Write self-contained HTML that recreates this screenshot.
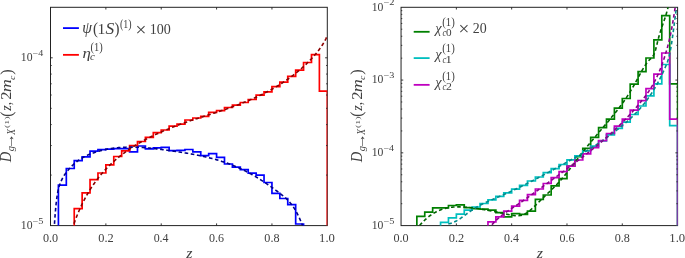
<!DOCTYPE html>
<html><head><meta charset="utf-8"><title>Fragmentation functions</title><style>html,body{margin:0;padding:0;background:#fff}svg{display:block}</style></head><body>
<svg width="685" height="258" viewBox="0 0 685 258">
<rect width="685" height="258" fill="#fff"/>
<defs><clipPath id="c1"><rect x="50.50" y="7.30" width="276.80" height="218.30"/></clipPath><clipPath id="c2"><rect x="401.05" y="7.30" width="276.55" height="218.30"/></clipPath></defs>
<rect x="50.50" y="7.30" width="276.80" height="218.30" fill="none" stroke="#222222" stroke-width="1"/>
<rect x="401.05" y="7.30" width="276.55" height="218.30" fill="none" stroke="#222222" stroke-width="1"/>
<path d="M58.41,265.60 L58.41,185.20 L66.32,185.20 L66.32,168.50 L74.23,168.50 L74.23,160.70 L82.13,160.70 L82.13,156.80 L90.04,156.80 L90.04,151.20 L97.95,151.20 L97.95,149.60 L105.86,149.60 L105.86,149.10 L113.77,149.10 L113.77,148.70 L121.68,148.70 L121.68,148.60 L129.59,148.60 L129.59,151.90 L137.49,151.90 L137.49,146.00 L145.40,146.00 L145.40,148.90 L153.31,148.90 L153.31,147.80 L161.22,147.80 L161.22,147.40 L169.13,147.40 L169.13,150.60 L177.04,150.60 L177.04,150.40 L184.95,150.40 L184.95,149.50 L192.85,149.50 L192.85,151.90 L200.76,151.90 L200.76,155.60 L208.67,155.60 L208.67,153.60 L216.58,153.60 L216.58,157.30 L224.49,157.30 L224.49,164.00 L232.40,164.00 L232.40,167.10 L240.31,167.10 L240.31,169.70 L248.21,169.70 L248.21,173.20 L256.12,173.20 L256.12,175.20 L264.03,175.20 L264.03,182.50 L271.94,182.50 L271.94,193.40 L279.85,193.40 L279.85,198.50 L287.76,198.50 L287.76,204.60 L295.67,204.60 L295.67,224.00 L303.57,224.00 L303.57,265.60 L327.30,265.60 L327.30,265.60" fill="none" stroke="#0000ff" stroke-width="1.7" stroke-linejoin="miter" clip-path="url(#c1)"/>
<path d="M74.23,265.60 L74.23,208.70 L82.13,208.70 L82.13,192.80 L90.04,192.80 L90.04,179.70 L97.95,179.70 L97.95,173.00 L105.86,173.00 L105.86,164.80 L113.77,164.80 L113.77,156.50 L121.68,156.50 L121.68,150.80 L129.59,150.80 L129.59,145.60 L137.49,145.60 L137.49,141.50 L145.40,141.50 L145.40,137.30 L153.31,137.30 L153.31,132.70 L161.22,132.70 L161.22,130.00 L169.13,130.00 L169.13,126.20 L177.04,126.20 L177.04,124.10 L184.95,124.10 L184.95,120.00 L192.85,120.00 L192.85,118.00 L200.76,118.00 L200.76,116.30 L208.67,116.30 L208.67,112.30 L216.58,112.30 L216.58,110.60 L224.49,110.60 L224.49,107.50 L232.40,107.50 L232.40,105.20 L240.31,105.20 L240.31,102.50 L248.21,102.50 L248.21,99.50 L256.12,99.50 L256.12,95.20 L264.03,95.20 L264.03,91.80 L271.94,91.80 L271.94,86.70 L279.85,86.70 L279.85,82.20 L287.76,82.20 L287.76,76.40 L295.67,76.40 L295.67,70.20 L303.57,70.20 L303.57,62.50 L311.48,62.50 L311.48,54.70 L319.39,54.70 L319.39,91.20 L327.30,91.20 L327.30,265.60" fill="none" stroke="#ff0000" stroke-width="1.7" stroke-linejoin="miter" clip-path="url(#c1)"/>
<path d="M54.10,230.04 L54.72,220.17 L55.35,211.93 L55.97,205.13 L56.60,199.60 L57.22,195.17 L57.84,191.65 L58.47,188.85 L59.09,186.61 L59.71,184.75 L60.34,183.09 L60.96,181.56 L61.59,180.15 L62.21,178.86 L62.83,177.67 L63.46,176.56 L64.08,175.54 L64.70,174.59 L65.33,173.69 L65.95,172.84 L66.58,172.03 L67.20,171.24 L67.82,170.47 L68.45,169.73 L69.07,169.01 L69.70,168.30 L70.32,167.62 L70.94,166.96 L71.57,166.32 L72.19,165.69 L72.81,165.09 L73.44,164.50 L74.06,163.93 L74.69,163.38 L75.31,162.84 L75.93,162.32 L76.56,161.82 L77.18,161.33 L77.80,160.86 L78.43,160.40 L79.05,159.96 L79.68,159.53 L80.30,159.12 L80.92,158.71 L81.55,158.33 L82.17,157.95 L82.80,157.59 L83.42,157.23 L84.04,156.89 L84.67,156.56 L85.29,156.24 L85.91,155.94 L86.54,155.64 L87.16,155.35 L87.79,155.07 L88.41,154.79 L89.03,154.53 L89.66,154.27 L90.28,154.03 L90.90,153.78 L91.53,153.55 L92.15,153.32 L92.78,153.10 L93.40,152.88 L94.02,152.67 L94.65,152.46 L95.27,152.25 L95.90,152.06 L96.52,151.86 L97.14,151.67 L97.77,151.49 L98.39,151.31 L99.01,151.13 L99.64,150.96 L100.26,150.79 L100.89,150.63 L101.51,150.47 L102.13,150.31 L102.76,150.16 L103.38,150.01 L104.00,149.87 L104.63,149.73 L105.25,149.60 L105.88,149.47 L106.50,149.34 L107.12,149.22 L107.75,149.10 L108.37,148.98 L109.00,148.87 L109.62,148.76 L110.24,148.66 L110.87,148.56 L111.49,148.46 L112.11,148.37 L112.74,148.28 L113.36,148.20 L113.99,148.11 L114.61,148.04 L115.23,147.96 L115.86,147.89 L116.48,147.82 L117.10,147.76 L117.73,147.69 L118.35,147.64 L118.98,147.58 L119.60,147.53 L120.22,147.48 L120.85,147.43 L121.47,147.39 L122.10,147.35 L122.72,147.32 L123.34,147.28 L123.97,147.25 L124.59,147.22 L125.21,147.20 L125.84,147.18 L126.46,147.16 L127.09,147.14 L127.71,147.13 L128.33,147.12 L128.96,147.11 L129.58,147.10 L130.20,147.10 L130.83,147.10 L131.45,147.10 L132.08,147.11 L132.70,147.11 L133.32,147.12 L133.95,147.13 L134.57,147.15 L135.20,147.16 L135.82,147.18 L136.44,147.20 L137.07,147.23 L137.69,147.25 L138.31,147.28 L138.94,147.31 L139.56,147.34 L140.19,147.37 L140.81,147.41 L141.43,147.45 L142.06,147.49 L142.68,147.53 L143.30,147.57 L143.93,147.62 L144.55,147.66 L145.18,147.71 L145.80,147.76 L146.42,147.81 L147.05,147.87 L147.67,147.92 L148.30,147.98 L148.92,148.04 L149.54,148.10 L150.17,148.16 L150.79,148.22 L151.41,148.28 L152.04,148.35 L152.66,148.42 L153.29,148.48 L153.91,148.55 L154.53,148.62 L155.16,148.69 L155.78,148.77 L156.40,148.84 L157.03,148.91 L157.65,148.99 L158.28,149.07 L158.90,149.14 L159.52,149.22 L160.15,149.30 L160.77,149.38 L161.40,149.46 L162.02,149.54 L162.64,149.63 L163.27,149.71 L163.89,149.79 L164.51,149.88 L165.14,149.96 L165.76,150.05 L166.39,150.13 L167.01,150.22 L167.63,150.31 L168.26,150.40 L168.88,150.48 L169.50,150.57 L170.13,150.66 L170.75,150.75 L171.38,150.84 L172.00,150.93 L172.62,151.02 L173.25,151.11 L173.87,151.20 L174.50,151.29 L175.12,151.38 L175.74,151.47 L176.37,151.56 L176.99,151.65 L177.61,151.75 L178.24,151.84 L178.86,151.94 L179.49,152.03 L180.11,152.13 L180.73,152.22 L181.36,152.32 L181.98,152.42 L182.60,152.52 L183.23,152.61 L183.85,152.71 L184.48,152.82 L185.10,152.92 L185.72,153.02 L186.35,153.12 L186.97,153.23 L187.60,153.33 L188.22,153.44 L188.84,153.55 L189.47,153.66 L190.09,153.77 L190.71,153.88 L191.34,153.99 L191.96,154.10 L192.59,154.22 L193.21,154.33 L193.83,154.45 L194.46,154.57 L195.08,154.69 L195.70,154.81 L196.33,154.93 L196.95,155.05 L197.58,155.18 L198.20,155.30 L198.82,155.43 L199.45,155.56 L200.07,155.69 L200.70,155.82 L201.32,155.96 L201.94,156.09 L202.57,156.23 L203.19,156.37 L203.81,156.51 L204.44,156.65 L205.06,156.80 L205.69,156.94 L206.31,157.09 L206.93,157.24 L207.56,157.39 L208.18,157.54 L208.80,157.70 L209.43,157.85 L210.05,158.01 L210.68,158.17 L211.30,158.33 L211.92,158.50 L212.55,158.67 L213.17,158.83 L213.80,159.01 L214.42,159.18 L215.04,159.35 L215.67,159.53 L216.29,159.71 L216.91,159.89 L217.54,160.08 L218.16,160.26 L218.79,160.45 L219.41,160.64 L220.03,160.84 L220.66,161.03 L221.28,161.23 L221.90,161.43 L222.53,161.64 L223.15,161.84 L223.78,162.05 L224.40,162.26 L225.02,162.47 L225.65,162.69 L226.27,162.91 L226.90,163.13 L227.52,163.36 L228.14,163.58 L228.77,163.81 L229.39,164.04 L230.01,164.28 L230.64,164.52 L231.26,164.76 L231.89,165.00 L232.51,165.25 L233.13,165.50 L233.76,165.75 L234.38,166.01 L235.00,166.27 L235.63,166.53 L236.25,166.79 L236.88,167.06 L237.50,167.33 L238.12,167.61 L238.75,167.88 L239.37,168.16 L240.00,168.45 L240.62,168.74 L241.24,169.03 L241.87,169.32 L242.49,169.62 L243.11,169.92 L243.74,170.22 L244.36,170.53 L244.99,170.84 L245.61,171.16 L246.23,171.47 L246.86,171.79 L247.48,172.12 L248.10,172.45 L248.73,172.78 L249.35,173.12 L249.98,173.46 L250.60,173.80 L251.22,174.15 L251.85,174.50 L252.47,174.85 L253.10,175.21 L253.72,175.57 L254.34,175.93 L254.97,176.30 L255.59,176.67 L256.21,177.04 L256.84,177.42 L257.46,177.80 L258.09,178.18 L258.71,178.57 L259.33,178.96 L259.96,179.35 L260.58,179.75 L261.20,180.14 L261.83,180.55 L262.45,180.95 L263.08,181.36 L263.70,181.77 L264.32,182.18 L264.95,182.60 L265.57,183.02 L266.20,183.44 L266.82,183.86 L267.44,184.29 L268.07,184.72 L268.69,185.15 L269.31,185.59 L269.94,186.02 L270.56,186.46 L271.19,186.91 L271.81,187.35 L272.43,187.80 L273.06,188.25 L273.68,188.70 L274.30,189.15 L274.93,189.61 L275.55,190.07 L276.18,190.53 L276.80,190.99 L277.42,191.46 L278.05,191.93 L278.67,192.40 L279.30,192.87 L279.92,193.34 L280.54,193.82 L281.17,194.30 L281.79,194.78 L282.41,195.28 L283.04,195.78 L283.66,196.30 L284.29,196.82 L284.91,197.37 L285.53,197.92 L286.16,198.50 L286.78,199.09 L287.40,199.71 L288.03,200.35 L288.65,201.01 L289.28,201.70 L289.90,202.42 L290.52,203.17 L291.15,203.94 L291.77,204.76 L292.40,205.60 L293.02,206.48 L293.64,207.40 L294.27,208.36 L294.89,209.36 L295.51,210.41 L296.14,211.49 L296.76,212.63 L297.39,213.81 L298.01,215.04 L298.63,216.33 L299.26,217.67 L299.88,219.06 L300.50,220.51 L301.13,222.01 L301.75,223.58 L302.38,225.21 L303.00,226.90" fill="none" stroke="#00008b" stroke-width="1.6" stroke-dasharray="3.6,2.6" clip-path="url(#c1)"/>
<path d="M64.34,259.55 L65.00,256.34 L65.66,253.27 L66.32,250.35 L66.98,247.55 L67.64,244.87 L68.29,242.30 L68.95,239.82 L69.61,237.44 L70.27,235.15 L70.93,232.94 L71.59,230.80 L72.25,228.74 L72.91,226.74 L73.57,224.80 L74.23,222.93 L74.88,221.11 L75.54,219.34 L76.20,217.63 L76.86,215.96 L77.52,214.34 L78.18,212.76 L78.84,211.21 L79.50,209.70 L80.16,208.23 L80.82,206.79 L81.48,205.38 L82.13,204.01 L82.79,202.68 L83.45,201.37 L84.11,200.09 L84.77,198.84 L85.43,197.61 L86.09,196.42 L86.75,195.24 L87.41,194.09 L88.07,192.97 L88.72,191.87 L89.38,190.78 L90.04,189.72 L90.70,188.68 L91.36,187.66 L92.02,186.66 L92.68,185.68 L93.34,184.72 L94.00,183.77 L94.66,182.84 L95.31,181.92 L95.97,181.02 L96.63,180.14 L97.29,179.27 L97.95,178.42 L98.61,177.58 L99.27,176.75 L99.93,175.94 L100.59,175.14 L101.25,174.35 L101.91,173.57 L102.56,172.81 L103.22,172.06 L103.88,171.32 L104.54,170.59 L105.20,169.87 L105.86,169.16 L106.52,168.46 L107.18,167.78 L107.84,167.10 L108.50,166.43 L109.15,165.77 L109.81,165.12 L110.47,164.48 L111.13,163.85 L111.79,163.23 L112.45,162.61 L113.11,162.00 L113.77,161.41 L114.43,160.81 L115.09,160.23 L115.75,159.66 L116.40,159.09 L117.06,158.53 L117.72,157.97 L118.38,157.42 L119.04,156.88 L119.70,156.35 L120.36,155.82 L121.02,155.30 L121.68,154.79 L122.34,154.28 L122.99,153.78 L123.65,153.28 L124.31,152.79 L124.97,152.30 L125.63,151.82 L126.29,151.35 L126.95,150.88 L127.61,150.42 L128.27,149.96 L128.93,149.51 L129.59,149.06 L130.24,148.61 L130.90,148.17 L131.56,147.74 L132.22,147.31 L132.88,146.89 L133.54,146.47 L134.20,146.05 L134.86,145.64 L135.52,145.23 L136.18,144.83 L136.83,144.43 L137.49,144.03 L138.15,143.64 L138.81,143.25 L139.47,142.87 L140.13,142.49 L140.79,142.11 L141.45,141.74 L142.11,141.37 L142.77,141.01 L143.42,140.64 L144.08,140.29 L144.74,139.93 L145.40,139.58 L146.06,139.23 L146.72,138.88 L147.38,138.54 L148.04,138.20 L148.70,137.86 L149.36,137.53 L150.02,137.20 L150.67,136.87 L151.33,136.54 L151.99,136.22 L152.65,135.90 L153.31,135.58 L153.97,135.27 L154.63,134.96 L155.29,134.65 L155.95,134.34 L156.61,134.03 L157.26,133.73 L157.92,133.43 L158.58,133.13 L159.24,132.84 L159.90,132.54 L160.56,132.25 L161.22,131.96 L161.88,131.68 L162.54,131.39 L163.20,131.11 L163.86,130.83 L164.51,130.55 L165.17,130.27 L165.83,129.99 L166.49,129.72 L167.15,129.45 L167.81,129.18 L168.47,128.91 L169.13,128.64 L169.79,128.37 L170.45,128.11 L171.10,127.85 L171.76,127.59 L172.42,127.33 L173.08,127.07 L173.74,126.81 L174.40,126.56 L175.06,126.30 L175.72,126.05 L176.38,125.80 L177.04,125.55 L177.69,125.30 L178.35,125.05 L179.01,124.81 L179.67,124.56 L180.33,124.32 L180.99,124.07 L181.65,123.83 L182.31,123.59 L182.97,123.35 L183.63,123.11 L184.29,122.87 L184.94,122.63 L185.60,122.40 L186.26,122.16 L186.92,121.93 L187.58,121.69 L188.24,121.46 L188.90,121.22 L189.56,121.01 L190.22,120.79 L190.88,120.57 L191.53,120.36 L192.19,120.14 L192.85,119.92 L193.51,119.71 L194.17,119.50 L194.83,119.28 L195.49,119.07 L196.15,118.85 L196.81,118.64 L197.47,118.43 L198.13,118.22 L198.78,118.01 L199.44,117.79 L200.10,117.58 L200.76,117.37 L201.42,117.16 L202.08,116.95 L202.74,116.74 L203.40,116.53 L204.06,116.31 L204.72,116.10 L205.37,115.89 L206.03,115.68 L206.69,115.47 L207.35,115.26 L208.01,115.05 L208.67,114.84 L209.33,114.62 L209.99,114.41 L210.65,114.20 L211.31,113.99 L211.97,113.77 L212.62,113.56 L213.28,113.35 L213.94,113.13 L214.60,112.92 L215.26,112.70 L215.92,112.49 L216.58,112.27 L217.24,112.05 L217.90,111.84 L218.56,111.62 L219.21,111.40 L219.87,111.18 L220.53,110.96 L221.19,110.74 L221.85,110.52 L222.51,110.30 L223.17,110.08 L223.83,109.85 L224.49,109.63 L225.15,109.40 L225.80,109.18 L226.46,108.95 L227.12,108.72 L227.78,108.49 L228.44,108.26 L229.10,108.03 L229.76,107.80 L230.42,107.56 L231.08,107.33 L231.74,107.09 L232.40,106.86 L233.05,106.62 L233.71,106.38 L234.37,106.14 L235.03,105.89 L235.69,105.65 L236.35,105.41 L237.01,105.16 L237.67,104.91 L238.33,104.66 L238.99,104.41 L239.64,104.16 L240.30,103.90 L240.96,103.65 L241.62,103.39 L242.28,103.13 L242.94,102.87 L243.60,102.61 L244.26,102.34 L244.92,102.08 L245.58,101.81 L246.24,101.54 L246.89,101.27 L247.55,100.99 L248.21,100.72 L248.87,100.44 L249.53,100.16 L250.19,99.88 L250.85,99.59 L251.51,99.31 L252.17,99.02 L252.83,98.73 L253.48,98.44 L254.14,98.14 L254.80,97.85 L255.46,97.55 L256.12,97.24 L256.78,96.94 L257.44,96.63 L258.10,96.32 L258.76,96.01 L259.42,95.70 L260.08,95.38 L260.73,95.06 L261.39,94.74 L262.05,94.42 L262.71,94.09 L263.37,93.76 L264.03,93.42 L264.69,93.09 L265.35,92.75 L266.01,92.41 L266.67,92.06 L267.32,91.72 L267.98,91.37 L268.64,91.01 L269.30,90.66 L269.96,90.30 L270.62,89.93 L271.28,89.57 L271.94,89.20 L272.60,88.82 L273.26,88.45 L273.91,88.07 L274.57,87.69 L275.23,87.30 L275.89,86.91 L276.55,86.52 L277.21,86.12 L277.87,85.72 L278.53,85.31 L279.19,84.90 L279.85,84.49 L280.51,84.08 L281.16,83.66 L281.82,83.23 L282.48,82.80 L283.14,82.37 L283.80,81.93 L284.46,81.49 L285.12,81.05 L285.78,80.60 L286.44,80.15 L287.10,79.69 L287.75,79.23 L288.41,78.76 L289.07,78.29 L289.73,77.81 L290.39,77.33 L291.05,76.84 L291.71,76.35 L292.37,75.85 L293.03,75.35 L293.69,74.85 L294.35,74.33 L295.00,73.82 L295.66,73.29 L296.32,72.76 L296.98,72.23 L297.64,71.69 L298.30,71.14 L298.96,70.59 L299.62,70.03 L300.28,69.47 L300.94,68.90 L301.59,68.32 L302.25,67.73 L302.91,67.14 L303.57,66.54 L304.23,65.94 L304.89,65.32 L305.55,64.70 L306.21,64.07 L306.87,63.44 L307.53,62.79 L308.19,62.14 L308.84,61.47 L309.50,60.80 L310.16,60.12 L310.82,59.43 L311.48,58.72 L312.14,58.01 L312.80,57.28 L313.46,56.55 L314.12,55.80 L314.78,55.04 L315.43,54.26 L316.09,53.47 L316.75,52.67 L317.41,51.84 L318.07,51.00 L318.73,50.14 L319.39,49.27 L320.05,48.36 L320.71,47.44 L321.37,46.49 L322.02,45.50 L322.68,44.49 L323.34,43.43 L324.00,42.32 L324.66,41.16 L325.32,39.93 L325.98,38.59 L326.64,37.09 L327.30,35.15" fill="none" stroke="#8b0000" stroke-width="1.6" stroke-dasharray="3.6,2.6" clip-path="url(#c1)"/>
<path d="M416.85,265.60 L416.85,216.40 L424.75,216.40 L424.75,212.10 L432.66,212.10 L432.66,207.80 L448.46,207.80 L448.46,205.50 L456.36,205.50 L456.36,204.90 L464.26,204.90 L464.26,207.60 L472.16,207.60 L472.16,208.60 L480.06,208.60 L480.06,209.20 L487.97,209.20 L487.97,210.20 L495.87,210.20 L495.87,212.70 L503.77,212.70 L503.77,216.80 L511.67,216.80 L511.67,213.70 L519.57,213.70 L519.57,214.30 L527.47,214.30 L527.47,211.10 L535.37,211.10 L535.37,199.40 L543.28,199.40 L543.28,195.00 L551.18,195.00 L551.18,185.80 L559.08,185.80 L559.08,178.70 L566.98,178.70 L566.98,166.00 L574.88,166.00 L574.88,156.70 L582.78,156.70 L582.78,148.30 L590.68,148.30 L590.68,137.30 L598.59,137.30 L598.59,127.60 L606.49,127.60 L606.49,119.20 L614.39,119.20 L614.39,108.10 L622.29,108.10 L622.29,98.50 L630.19,98.50 L630.19,84.20 L638.09,84.20 L638.09,71.70 L645.99,71.70 L645.99,58.00 L653.90,58.00 L653.90,39.90 L661.80,39.90 L661.80,15.70 L669.70,15.70 L669.70,83.80 L677.60,83.80 L677.60,265.60" fill="none" stroke="#008000" stroke-width="1.7" stroke-linejoin="miter" clip-path="url(#c2)"/>
<path d="M440.56,265.60 L440.56,222.30 L448.46,222.30 L448.46,217.80 L456.36,217.80 L456.36,214.10 L464.26,214.10 L464.26,210.20 L472.16,210.20 L472.16,207.00 L480.06,207.00 L480.06,203.50 L487.97,203.50 L487.97,199.80 L495.87,199.80 L495.87,196.40 L503.77,196.40 L503.77,192.90 L511.67,192.90 L511.67,189.20 L519.57,189.20 L519.57,185.30 L527.47,185.30 L527.47,181.00 L535.37,181.00 L535.37,177.00 L543.28,177.00 L543.28,172.60 L551.18,172.60 L551.18,168.60 L559.08,168.60 L559.08,164.50 L566.98,164.50 L566.98,159.80 L574.88,159.80 L574.88,155.80 L582.78,155.80 L582.78,150.80 L590.68,150.80 L590.68,146.10 L598.59,146.10 L598.59,141.00 L606.49,141.00 L606.49,134.80 L614.39,134.80 L614.39,128.40 L622.29,128.40 L622.29,122.20 L630.19,122.20 L630.19,114.50 L638.09,114.50 L638.09,106.00 L645.99,106.00 L645.99,95.90 L653.90,95.90 L653.90,83.80 L661.80,83.80 L661.80,64.50 L669.70,64.50 L669.70,125.60 L677.60,125.60 L677.60,265.60" fill="none" stroke="#00bfbf" stroke-width="1.7" stroke-linejoin="miter" clip-path="url(#c2)"/>
<path d="M487.97,265.60 L487.97,221.90 L495.87,221.90 L495.87,216.80 L503.77,216.80 L503.77,211.10 L511.67,211.10 L511.67,206.20 L519.57,206.20 L519.57,200.40 L527.47,200.40 L527.47,194.60 L535.37,194.60 L535.37,189.00 L543.28,189.00 L543.28,183.50 L551.18,183.50 L551.18,177.60 L559.08,177.60 L559.08,171.60 L566.98,171.60 L566.98,166.20 L574.88,166.20 L574.88,160.00 L582.78,160.00 L582.78,153.80 L590.68,153.80 L590.68,147.60 L598.59,147.60 L598.59,140.60 L606.49,140.60 L606.49,133.50 L614.39,133.50 L614.39,126.10 L622.29,126.10 L622.29,119.20 L630.19,119.20 L630.19,110.10 L638.09,110.10 L638.09,100.60 L645.99,100.60 L645.99,88.70 L653.90,88.70 L653.90,74.20 L661.80,74.20 L661.80,53.00 L669.70,53.00 L669.70,119.20 L677.60,119.20 L677.60,265.60" fill="none" stroke="#bf00bf" stroke-width="1.7" stroke-linejoin="miter" clip-path="url(#c2)"/>
<path d="M419.60,225.52 L420.23,224.79 L420.85,224.09 L421.48,223.40 L422.10,222.73 L422.73,222.07 L423.35,221.44 L423.98,220.82 L424.61,220.22 L425.23,219.63 L425.86,219.06 L426.48,218.51 L427.11,217.97 L427.74,217.45 L428.36,216.94 L428.99,216.45 L429.61,215.97 L430.24,215.51 L430.86,215.06 L431.49,214.63 L432.12,214.21 L432.74,213.81 L433.37,213.42 L433.99,213.05 L434.62,212.68 L435.25,212.33 L435.87,212.00 L436.50,211.67 L437.12,211.36 L437.75,211.07 L438.37,210.78 L439.00,210.51 L439.63,210.24 L440.25,209.99 L440.88,209.75 L441.50,209.53 L442.13,209.31 L442.76,209.10 L443.38,208.91 L444.01,208.72 L444.63,208.55 L445.26,208.39 L445.88,208.23 L446.51,208.09 L447.14,207.95 L447.76,207.82 L448.39,207.71 L449.01,207.60 L449.64,207.50 L450.26,207.41 L450.89,207.32 L451.52,207.25 L452.14,207.18 L452.77,207.12 L453.39,207.07 L454.02,207.02 L454.65,206.98 L455.27,206.95 L455.90,206.93 L456.52,206.91 L457.15,206.89 L457.77,206.89 L458.40,206.89 L459.03,206.89 L459.65,206.90 L460.28,206.92 L460.90,206.94 L461.53,206.96 L462.16,206.99 L462.78,207.02 L463.41,207.06 L464.03,207.10 L464.66,207.15 L465.28,207.20 L465.91,207.25 L466.54,207.31 L467.16,207.36 L467.79,207.43 L468.41,207.49 L469.04,207.56 L469.67,207.62 L470.29,207.69 L470.92,207.77 L471.54,207.84 L472.17,207.91 L472.79,207.99 L473.42,208.07 L474.05,208.15 L474.67,208.23 L475.30,208.32 L475.92,208.41 L476.55,208.49 L477.17,208.58 L477.80,208.67 L478.43,208.77 L479.05,208.86 L479.68,208.96 L480.30,209.05 L480.93,209.15 L481.56,209.25 L482.18,209.35 L482.81,209.45 L483.43,209.56 L484.06,209.66 L484.68,209.77 L485.31,209.88 L485.94,209.99 L486.56,210.10 L487.19,210.21 L487.81,210.32 L488.44,210.44 L489.07,210.55 L489.69,210.67 L490.32,210.79 L490.94,210.91 L491.57,211.03 L492.19,211.15 L492.82,211.27 L493.45,211.39 L494.07,211.52 L494.70,211.64 L495.32,211.76 L495.95,211.89 L496.58,212.02 L497.20,212.15 L497.83,212.27 L498.45,212.40 L499.08,212.53 L499.70,212.66 L500.33,212.80 L500.96,212.93 L501.58,213.06 L502.21,213.19 L502.83,213.33 L503.46,213.46 L504.08,213.60 L504.71,213.73 L505.34,213.87 L505.96,214.00 L506.59,214.14 L507.21,214.28 L507.84,214.41 L508.47,214.55 L509.09,214.69 L509.72,214.82 L510.34,214.95 L510.97,215.08 L511.59,215.20 L512.22,215.31 L512.85,215.41 L513.47,215.50 L514.10,215.58 L514.72,215.65 L515.35,215.70 L515.98,215.74 L516.60,215.76 L517.23,215.77 L517.85,215.75 L518.48,215.72 L519.10,215.66 L519.73,215.58 L520.36,215.48 L520.98,215.35 L521.61,215.19 L522.23,215.01 L522.86,214.79 L523.49,214.55 L524.11,214.27 L524.74,213.97 L525.36,213.63 L525.99,213.27 L526.61,212.88 L527.24,212.46 L527.87,212.03 L528.49,211.57 L529.12,211.08 L529.74,210.58 L530.37,210.07 L530.99,209.53 L531.62,208.98 L532.25,208.42 L532.87,207.84 L533.50,207.26 L534.12,206.66 L534.75,206.06 L535.38,205.45 L536.00,204.83 L536.63,204.21 L537.25,203.59 L537.88,202.97 L538.50,202.35 L539.13,201.73 L539.76,201.11 L540.38,200.50 L541.01,199.89 L541.63,199.28 L542.26,198.68 L542.89,198.08 L543.51,197.48 L544.14,196.88 L544.76,196.28 L545.39,195.68 L546.01,195.09 L546.64,194.49 L547.27,193.89 L547.89,193.29 L548.52,192.69 L549.14,192.09 L549.77,191.48 L550.40,190.88 L551.02,190.27 L551.65,189.65 L552.27,189.04 L552.90,188.42 L553.52,187.79 L554.15,187.16 L554.78,186.53 L555.40,185.89 L556.03,185.24 L556.65,184.59 L557.28,183.93 L557.91,183.27 L558.53,182.60 L559.16,181.91 L559.78,181.23 L560.41,180.53 L561.03,179.82 L561.66,179.11 L562.29,178.38 L562.91,177.65 L563.54,176.90 L564.16,176.15 L564.79,175.38 L565.41,174.61 L566.04,173.83 L566.67,173.04 L567.29,172.24 L567.92,171.44 L568.54,170.63 L569.17,169.82 L569.80,169.00 L570.42,168.17 L571.05,167.35 L571.67,166.52 L572.30,165.69 L572.92,164.86 L573.55,164.02 L574.18,163.19 L574.80,162.35 L575.43,161.52 L576.05,160.69 L576.68,159.86 L577.31,159.03 L577.93,158.20 L578.56,157.38 L579.18,156.56 L579.81,155.75 L580.43,154.94 L581.06,154.14 L581.69,153.34 L582.31,152.54 L582.94,151.75 L583.56,150.96 L584.19,150.17 L584.82,149.39 L585.44,148.61 L586.07,147.84 L586.69,147.06 L587.32,146.29 L587.94,145.53 L588.57,144.76 L589.20,144.00 L589.82,143.24 L590.45,142.48 L591.07,141.73 L591.70,140.97 L592.32,140.22 L592.95,139.47 L593.58,138.72 L594.20,137.98 L594.83,137.23 L595.45,136.48 L596.08,135.74 L596.71,135.00 L597.33,134.26 L597.96,133.52 L598.58,132.77 L599.21,132.03 L599.83,131.29 L600.46,130.55 L601.09,129.81 L601.71,129.07 L602.34,128.33 L602.96,127.59 L603.59,126.85 L604.22,126.11 L604.84,125.37 L605.47,124.62 L606.09,123.88 L606.72,123.13 L607.34,122.39 L607.97,121.64 L608.60,120.89 L609.22,120.14 L609.85,119.38 L610.47,118.63 L611.10,117.87 L611.73,117.11 L612.35,116.35 L612.98,115.58 L613.60,114.81 L614.23,114.04 L614.85,113.26 L615.48,112.47 L616.11,111.68 L616.73,110.89 L617.36,110.09 L617.98,109.28 L618.61,108.47 L619.23,107.65 L619.86,106.82 L620.49,105.99 L621.11,105.14 L621.74,104.29 L622.36,103.43 L622.99,102.55 L623.62,101.67 L624.24,100.78 L624.87,99.88 L625.49,98.96 L626.12,98.04 L626.74,97.10 L627.37,96.15 L628.00,95.19 L628.62,94.21 L629.25,93.22 L629.87,92.22 L630.50,91.20 L631.13,90.17 L631.75,89.12 L632.38,88.06 L633.00,86.98 L633.63,85.89 L634.25,84.77 L634.88,83.65 L635.51,82.51 L636.13,81.35 L636.76,80.20 L637.38,79.03 L638.01,77.87 L638.64,76.70 L639.26,75.55 L639.89,74.39 L640.51,73.25 L641.14,72.12 L641.76,71.01 L642.39,69.92 L643.02,68.85 L643.64,67.81 L644.27,66.79 L644.89,65.80 L645.52,64.85 L646.14,63.94 L646.77,63.06 L647.40,62.23 L648.02,61.45 L648.65,60.71 L649.27,60.03 L649.90,59.40 L650.53,58.82 L651.15,58.25 L651.78,57.63 L652.40,56.91 L653.03,56.04 L653.65,54.96 L654.28,53.61 L654.91,51.95 L655.53,49.92 L656.16,47.57 L656.78,45.02 L657.41,42.42 L658.04,39.89 L658.66,37.52 L659.29,35.28 L659.91,33.17 L660.54,31.16 L661.16,29.23 L661.79,27.36 L662.42,25.52 L663.04,23.71 L663.67,21.89 L664.29,20.05 L664.92,18.17 L665.55,16.22 L666.17,14.19 L666.80,12.06 L667.42,9.79 L668.05,7.38 L668.67,4.81 L669.30,2.04" fill="none" stroke="#006400" stroke-width="1.6" stroke-dasharray="3.6,2.6" clip-path="url(#c2)"/>
<path d="M448.30,223.85 L448.87,223.77 L449.45,223.66 L450.02,223.53 L450.59,223.38 L451.17,223.21 L451.74,223.02 L452.32,222.82 L452.89,222.60 L453.46,222.36 L454.04,222.10 L454.61,221.83 L455.18,221.55 L455.76,221.25 L456.33,220.94 L456.91,220.62 L457.48,220.28 L458.05,219.94 L458.63,219.58 L459.20,219.22 L459.77,218.84 L460.35,218.46 L460.92,218.07 L461.49,217.67 L462.07,217.27 L462.64,216.87 L463.22,216.45 L463.79,216.04 L464.36,215.62 L464.94,215.20 L465.51,214.78 L466.08,214.35 L466.66,213.93 L467.23,213.50 L467.81,213.08 L468.38,212.66 L468.95,212.24 L469.53,211.83 L470.10,211.42 L470.67,211.01 L471.25,210.61 L471.82,210.22 L472.39,209.83 L472.97,209.45 L473.54,209.08 L474.12,208.71 L474.69,208.35 L475.26,207.99 L475.84,207.64 L476.41,207.30 L476.98,206.96 L477.56,206.63 L478.13,206.30 L478.71,205.98 L479.28,205.67 L479.85,205.36 L480.43,205.05 L481.00,204.75 L481.57,204.45 L482.15,204.16 L482.72,203.87 L483.29,203.58 L483.87,203.30 L484.44,203.02 L485.02,202.75 L485.59,202.48 L486.16,202.21 L486.74,201.94 L487.31,201.68 L487.88,201.42 L488.46,201.16 L489.03,200.91 L489.61,200.65 L490.18,200.40 L490.75,200.15 L491.33,199.90 L491.90,199.66 L492.47,199.41 L493.05,199.17 L493.62,198.92 L494.19,198.68 L494.77,198.44 L495.34,198.19 L495.92,197.95 L496.49,197.71 L497.06,197.47 L497.64,197.22 L498.21,196.98 L498.78,196.74 L499.36,196.49 L499.93,196.25 L500.51,196.00 L501.08,195.75 L501.65,195.50 L502.23,195.25 L502.80,195.00 L503.37,194.75 L503.95,194.50 L504.52,194.24 L505.09,193.99 L505.67,193.73 L506.24,193.47 L506.82,193.22 L507.39,192.96 L507.96,192.70 L508.54,192.43 L509.11,192.17 L509.68,191.91 L510.26,191.64 L510.83,191.38 L511.41,191.11 L511.98,190.85 L512.55,190.58 L513.13,190.31 L513.70,190.04 L514.27,189.77 L514.85,189.50 L515.42,189.22 L515.99,188.95 L516.57,188.68 L517.14,188.40 L517.72,188.12 L518.29,187.85 L518.86,187.57 L519.44,187.29 L520.01,187.01 L520.58,186.73 L521.16,186.45 L521.73,186.17 L522.31,185.89 L522.88,185.60 L523.45,185.32 L524.03,185.03 L524.60,184.75 L525.17,184.46 L525.75,184.17 L526.32,183.89 L526.89,183.60 L527.47,183.31 L528.04,183.02 L528.62,182.73 L529.19,182.43 L529.76,182.14 L530.34,181.85 L530.91,181.56 L531.48,181.26 L532.06,180.97 L532.63,180.67 L533.21,180.38 L533.78,180.08 L534.35,179.78 L534.93,179.48 L535.50,179.18 L536.07,178.89 L536.65,178.59 L537.22,178.29 L537.79,177.98 L538.37,177.68 L538.94,177.38 L539.52,177.08 L540.09,176.78 L540.66,176.47 L541.24,176.17 L541.81,175.86 L542.38,175.56 L542.96,175.25 L543.53,174.95 L544.11,174.64 L544.68,174.33 L545.25,174.03 L545.83,173.72 L546.40,173.41 L546.97,173.10 L547.55,172.79 L548.12,172.48 L548.69,172.17 L549.27,171.86 L549.84,171.55 L550.42,171.24 L550.99,170.93 L551.56,170.62 L552.14,170.31 L552.71,169.99 L553.28,169.68 L553.86,169.37 L554.43,169.06 L555.01,168.74 L555.58,168.43 L556.15,168.11 L556.73,167.80 L557.30,167.48 L557.87,167.17 L558.45,166.85 L559.02,166.54 L559.59,166.22 L560.17,165.91 L560.74,165.59 L561.32,165.27 L561.89,164.96 L562.46,164.64 L563.04,164.32 L563.61,164.01 L564.18,163.69 L564.76,163.37 L565.33,163.05 L565.91,162.73 L566.48,162.42 L567.05,162.10 L567.63,161.78 L568.20,161.46 L568.77,161.14 L569.35,160.82 L569.92,160.50 L570.49,160.17 L571.07,159.85 L571.64,159.53 L572.22,159.21 L572.79,158.88 L573.36,158.56 L573.94,158.23 L574.51,157.91 L575.08,157.58 L575.66,157.25 L576.23,156.93 L576.81,156.60 L577.38,156.27 L577.95,155.94 L578.53,155.61 L579.10,155.27 L579.67,154.94 L580.25,154.61 L580.82,154.27 L581.39,153.93 L581.97,153.60 L582.54,153.26 L583.12,152.92 L583.69,152.58 L584.26,152.24 L584.84,151.89 L585.41,151.55 L585.98,151.20 L586.56,150.86 L587.13,150.51 L587.71,150.16 L588.28,149.81 L588.85,149.46 L589.43,149.10 L590.00,148.75 L590.57,148.39 L591.15,148.03 L591.72,147.67 L592.29,147.31 L592.87,146.95 L593.44,146.58 L594.02,146.22 L594.59,145.85 L595.16,145.48 L595.74,145.11 L596.31,144.74 L596.88,144.36 L597.46,143.99 L598.03,143.61 L598.61,143.23 L599.18,142.85 L599.75,142.46 L600.33,142.08 L600.90,141.69 L601.47,141.30 L602.05,140.91 L602.62,140.52 L603.19,140.12 L603.77,139.72 L604.34,139.32 L604.92,138.92 L605.49,138.52 L606.06,138.11 L606.64,137.70 L607.21,137.29 L607.78,136.88 L608.36,136.46 L608.93,136.04 L609.51,135.62 L610.08,135.20 L610.65,134.78 L611.23,134.35 L611.80,133.92 L612.37,133.49 L612.95,133.05 L613.52,132.61 L614.09,132.17 L614.67,131.73 L615.24,131.28 L615.82,130.84 L616.39,130.39 L616.96,129.93 L617.54,129.48 L618.11,129.02 L618.68,128.55 L619.26,128.09 L619.83,127.62 L620.41,127.15 L620.98,126.68 L621.55,126.20 L622.13,125.72 L622.70,125.24 L623.27,124.75 L623.85,124.27 L624.42,123.77 L624.99,123.28 L625.57,122.78 L626.14,122.28 L626.72,121.78 L627.29,121.27 L627.86,120.76 L628.44,120.24 L629.01,119.72 L629.58,119.20 L630.16,118.67 L630.73,118.14 L631.31,117.60 L631.88,117.06 L632.45,116.51 L633.03,115.95 L633.60,115.39 L634.17,114.82 L634.75,114.25 L635.32,113.67 L635.89,113.08 L636.47,112.48 L637.04,111.88 L637.62,111.27 L638.19,110.65 L638.76,110.02 L639.34,109.38 L639.91,108.74 L640.48,108.08 L641.06,107.42 L641.63,106.75 L642.21,106.06 L642.78,105.37 L643.35,104.67 L643.93,103.95 L644.50,103.23 L645.07,102.49 L645.65,101.74 L646.22,100.98 L646.79,100.21 L647.37,99.43 L647.94,98.63 L648.52,97.83 L649.09,97.00 L649.66,96.17 L650.24,95.32 L650.81,94.46 L651.38,93.59 L651.96,92.70 L652.53,91.80 L653.11,90.88 L653.68,89.94 L654.25,89.00 L654.83,88.03 L655.40,87.06 L655.97,86.06 L656.55,85.05 L657.12,84.02 L657.69,82.98 L658.27,81.92 L658.84,80.84 L659.42,79.75 L659.99,78.63 L660.56,77.49 L661.14,76.34 L661.71,75.16 L662.28,73.95 L662.86,72.72 L663.43,71.47 L664.01,70.19 L664.58,68.89 L665.15,67.55 L665.73,66.19 L666.30,64.79 L666.87,63.32 L667.45,61.73 L668.02,60.00 L668.59,58.06 L669.17,55.88 L669.74,53.42 L670.32,50.63 L670.89,47.50 L671.46,44.04 L672.04,40.31 L672.61,36.34 L673.18,32.19 L673.76,27.90 L674.33,23.52 L674.91,19.08 L675.48,14.64 L676.05,10.23 L676.63,5.91 L677.20,1.72" fill="none" stroke="#008b8b" stroke-width="1.6" stroke-dasharray="3.6,2.6" clip-path="url(#c2)"/>
<path d="M492.00,224.66 L492.46,224.14 L492.92,223.64 L493.38,223.14 L493.84,222.65 L494.31,222.17 L494.77,221.70 L495.23,221.23 L495.69,220.77 L496.15,220.33 L496.61,219.88 L497.07,219.45 L497.53,219.02 L497.99,218.60 L498.46,218.19 L498.92,217.78 L499.38,217.38 L499.84,216.99 L500.30,216.60 L500.76,216.22 L501.22,215.85 L501.68,215.48 L502.15,215.12 L502.61,214.76 L503.07,214.41 L503.53,214.06 L503.99,213.71 L504.45,213.37 L504.91,213.04 L505.37,212.71 L505.83,212.38 L506.30,212.05 L506.76,211.73 L507.22,211.42 L507.68,211.10 L508.14,210.79 L508.60,210.48 L509.06,210.17 L509.52,209.86 L509.98,209.56 L510.45,209.25 L510.91,208.95 L511.37,208.65 L511.83,208.35 L512.29,208.05 L512.75,207.75 L513.21,207.45 L513.67,207.15 L514.14,206.85 L514.60,206.54 L515.06,206.24 L515.52,205.94 L515.98,205.64 L516.44,205.33 L516.90,205.02 L517.36,204.71 L517.82,204.40 L518.29,204.09 L518.75,203.78 L519.21,203.47 L519.67,203.15 L520.13,202.84 L520.59,202.52 L521.05,202.21 L521.51,201.89 L521.97,201.57 L522.44,201.25 L522.90,200.93 L523.36,200.60 L523.82,200.28 L524.28,199.96 L524.74,199.63 L525.20,199.31 L525.66,198.98 L526.13,198.65 L526.59,198.32 L527.05,198.00 L527.51,197.67 L527.97,197.34 L528.43,197.01 L528.89,196.67 L529.35,196.34 L529.81,196.01 L530.28,195.68 L530.74,195.35 L531.20,195.01 L531.66,194.68 L532.12,194.34 L532.58,194.01 L533.04,193.67 L533.50,193.34 L533.96,193.00 L534.43,192.67 L534.89,192.33 L535.35,192.00 L535.81,191.66 L536.27,191.32 L536.73,190.99 L537.19,190.65 L537.65,190.32 L538.12,189.98 L538.58,189.64 L539.04,189.31 L539.50,188.97 L539.96,188.63 L540.42,188.30 L540.88,187.96 L541.34,187.63 L541.80,187.29 L542.27,186.95 L542.73,186.62 L543.19,186.28 L543.65,185.95 L544.11,185.61 L544.57,185.27 L545.03,184.94 L545.49,184.60 L545.95,184.27 L546.42,183.93 L546.88,183.60 L547.34,183.26 L547.80,182.93 L548.26,182.59 L548.72,182.25 L549.18,181.92 L549.64,181.58 L550.11,181.25 L550.57,180.91 L551.03,180.57 L551.49,180.24 L551.95,179.90 L552.41,179.57 L552.87,179.23 L553.33,178.89 L553.79,178.56 L554.26,178.22 L554.72,177.88 L555.18,177.55 L555.64,177.21 L556.10,176.87 L556.56,176.53 L557.02,176.20 L557.48,175.86 L557.94,175.52 L558.41,175.18 L558.87,174.84 L559.33,174.51 L559.79,174.17 L560.25,173.83 L560.71,173.49 L561.17,173.15 L561.63,172.81 L562.10,172.47 L562.56,172.13 L563.02,171.79 L563.48,171.45 L563.94,171.11 L564.40,170.77 L564.86,170.43 L565.32,170.09 L565.78,169.74 L566.25,169.40 L566.71,169.06 L567.17,168.72 L567.63,168.37 L568.09,168.03 L568.55,167.69 L569.01,167.34 L569.47,167.00 L569.93,166.65 L570.40,166.31 L570.86,165.96 L571.32,165.62 L571.78,165.27 L572.24,164.92 L572.70,164.57 L573.16,164.23 L573.62,163.88 L574.09,163.53 L574.55,163.18 L575.01,162.83 L575.47,162.48 L575.93,162.13 L576.39,161.78 L576.85,161.43 L577.31,161.08 L577.77,160.73 L578.24,160.38 L578.70,160.02 L579.16,159.67 L579.62,159.32 L580.08,158.96 L580.54,158.61 L581.00,158.25 L581.46,157.90 L581.92,157.54 L582.39,157.18 L582.85,156.82 L583.31,156.47 L583.77,156.11 L584.23,155.75 L584.69,155.39 L585.15,155.03 L585.61,154.67 L586.08,154.31 L586.54,153.94 L587.00,153.58 L587.46,153.22 L587.92,152.85 L588.38,152.49 L588.84,152.12 L589.30,151.76 L589.76,151.39 L590.23,151.02 L590.69,150.65 L591.15,150.28 L591.61,149.91 L592.07,149.54 L592.53,149.17 L592.99,148.80 L593.45,148.43 L593.91,148.05 L594.38,147.68 L594.84,147.30 L595.30,146.92 L595.76,146.55 L596.22,146.17 L596.68,145.79 L597.14,145.41 L597.60,145.02 L598.07,144.64 L598.53,144.26 L598.99,143.87 L599.45,143.49 L599.91,143.10 L600.37,142.71 L600.83,142.32 L601.29,141.93 L601.75,141.54 L602.22,141.14 L602.68,140.75 L603.14,140.35 L603.60,139.95 L604.06,139.56 L604.52,139.16 L604.98,138.75 L605.44,138.35 L605.90,137.95 L606.37,137.54 L606.83,137.13 L607.29,136.73 L607.75,136.32 L608.21,135.90 L608.67,135.49 L609.13,135.08 L609.59,134.66 L610.06,134.24 L610.52,133.82 L610.98,133.40 L611.44,132.98 L611.90,132.56 L612.36,132.13 L612.82,131.70 L613.28,131.28 L613.74,130.84 L614.21,130.41 L614.67,129.98 L615.13,129.54 L615.59,129.10 L616.05,128.66 L616.51,128.22 L616.97,127.78 L617.43,127.33 L617.89,126.89 L618.36,126.44 L618.82,125.99 L619.28,125.53 L619.74,125.08 L620.20,124.62 L620.66,124.16 L621.12,123.70 L621.58,123.24 L622.05,122.77 L622.51,122.31 L622.97,121.84 L623.43,121.37 L623.89,120.89 L624.35,120.42 L624.81,119.94 L625.27,119.46 L625.73,118.98 L626.20,118.49 L626.66,118.00 L627.12,117.52 L627.58,117.02 L628.04,116.53 L628.50,116.03 L628.96,115.54 L629.42,115.03 L629.88,114.53 L630.35,114.03 L630.81,113.52 L631.27,113.01 L631.73,112.49 L632.19,111.98 L632.65,111.46 L633.11,110.94 L633.57,110.42 L634.04,109.89 L634.50,109.36 L634.96,108.83 L635.42,108.30 L635.88,107.76 L636.34,107.22 L636.80,106.68 L637.26,106.14 L637.72,105.59 L638.19,105.04 L638.65,104.49 L639.11,103.93 L639.57,103.38 L640.03,102.82 L640.49,102.25 L640.95,101.69 L641.41,101.12 L641.87,100.54 L642.34,99.97 L642.80,99.39 L643.26,98.81 L643.72,98.22 L644.18,97.63 L644.64,97.03 L645.10,96.43 L645.56,95.82 L646.03,95.20 L646.49,94.57 L646.95,93.93 L647.41,93.29 L647.87,92.63 L648.33,91.97 L648.79,91.29 L649.25,90.60 L649.71,89.90 L650.18,89.19 L650.64,88.46 L651.10,87.72 L651.56,86.96 L652.02,86.19 L652.48,85.40 L652.94,84.60 L653.40,83.78 L653.86,82.94 L654.33,82.08 L654.79,81.20 L655.25,80.30 L655.71,79.39 L656.17,78.45 L656.63,77.49 L657.09,76.51 L657.55,75.50 L658.02,74.47 L658.48,73.42 L658.94,72.35 L659.40,71.25 L659.86,70.12 L660.32,68.96 L660.78,67.78 L661.24,66.58 L661.70,65.34 L662.17,64.08 L662.63,62.78 L663.09,61.46 L663.55,60.10 L664.01,58.72 L664.47,57.30 L664.93,55.85 L665.39,54.36 L665.85,52.85 L666.32,51.29 L666.78,49.70 L667.24,48.06 L667.70,46.36 L668.16,44.61 L668.62,42.79 L669.08,40.90 L669.54,38.94 L670.01,36.89 L670.47,34.76 L670.93,32.52 L671.39,30.19 L671.85,27.76 L672.31,25.21 L672.77,22.55 L673.23,19.80 L673.69,16.95 L674.16,14.01 L674.62,11.00 L675.08,7.92 L675.54,4.78 L676.00,1.58" fill="none" stroke="#8b008b" stroke-width="1.6" stroke-dasharray="3.6,2.6" clip-path="url(#c2)"/>
<path d="M105.86,225.60 v-2.2 M105.86,7.30 v2.2 M161.22,225.60 v-2.2 M161.22,7.30 v2.2 M216.58,225.60 v-2.2 M216.58,7.30 v2.2 M271.94,225.60 v-2.2 M271.94,7.30 v2.2 M50.50,175.09 h1.2 M327.30,175.09 h-1.2 M50.50,145.54 h1.2 M327.30,145.54 h-1.2 M50.50,124.58 h1.2 M327.30,124.58 h-1.2 M50.50,108.32 h1.2 M327.30,108.32 h-1.2 M50.50,95.03 h1.2 M327.30,95.03 h-1.2 M50.50,83.80 h1.2 M327.30,83.80 h-1.2 M50.50,74.07 h1.2 M327.30,74.07 h-1.2 M50.50,65.49 h1.2 M327.30,65.49 h-1.2 M50.50,57.81 h2.2 M327.30,57.81 h-2.2" stroke="#222222" stroke-width="0.9" fill="none"/>
<path d="M456.36,225.60 v-2.2 M456.36,7.30 v2.2 M511.67,225.60 v-2.2 M511.67,7.30 v2.2 M566.98,225.60 v-2.2 M566.98,7.30 v2.2 M622.29,225.60 v-2.2 M622.29,7.30 v2.2 M401.05,203.70 h1.2 M677.60,203.70 h-1.2 M401.05,190.88 h1.2 M677.60,190.88 h-1.2 M401.05,181.79 h1.2 M677.60,181.79 h-1.2 M401.05,174.74 h1.2 M677.60,174.74 h-1.2 M401.05,168.98 h1.2 M677.60,168.98 h-1.2 M401.05,164.11 h1.2 M677.60,164.11 h-1.2 M401.05,159.89 h1.2 M677.60,159.89 h-1.2 M401.05,156.16 h1.2 M677.60,156.16 h-1.2 M401.05,152.83 h2.2 M677.60,152.83 h-2.2 M401.05,130.93 h1.2 M677.60,130.93 h-1.2 M401.05,118.11 h1.2 M677.60,118.11 h-1.2 M401.05,109.02 h1.2 M677.60,109.02 h-1.2 M401.05,101.97 h1.2 M677.60,101.97 h-1.2 M401.05,96.21 h1.2 M677.60,96.21 h-1.2 M401.05,91.34 h1.2 M677.60,91.34 h-1.2 M401.05,87.12 h1.2 M677.60,87.12 h-1.2 M401.05,83.40 h1.2 M677.60,83.40 h-1.2 M401.05,80.07 h2.2 M677.60,80.07 h-2.2 M401.05,58.16 h1.2 M677.60,58.16 h-1.2 M401.05,45.35 h1.2 M677.60,45.35 h-1.2 M401.05,36.26 h1.2 M677.60,36.26 h-1.2 M401.05,29.20 h1.2 M677.60,29.20 h-1.2 M401.05,23.44 h1.2 M677.60,23.44 h-1.2 M401.05,18.57 h1.2 M677.60,18.57 h-1.2 M401.05,14.35 h1.2 M677.60,14.35 h-1.2 M401.05,10.63 h1.2 M677.60,10.63 h-1.2" stroke="#222222" stroke-width="0.9" fill="none"/>
<g font-family="'Liberation Serif','DejaVu Serif',serif" fill="#404040">
<text transform="translate(82.26,33.28) scale(0.958,1)" font-size="16.30" font-style="italic">ψ</text>
<text transform="translate(93.00,34.28) scale(0.894,1)" font-size="16.78">(</text>
<text transform="translate(97.59,34.00) scale(1.027,1)" font-size="15.30">1</text>
<text transform="translate(105.43,33.98) scale(1.092,1)" font-size="15.97" font-style="italic">S</text>
<text transform="translate(114.45,34.28) scale(0.894,1)" font-size="16.78">)</text>
<text transform="translate(119.90,28.35) scale(0.857,1)" font-size="11.67">(1)</text>
<text x="135.61" y="36.35" font-size="19.24">×</text>
<text transform="translate(149.73,33.70) scale(0.948,1)" font-size="14.85">100</text>
<text transform="translate(82.53,58.13) scale(1.231,1)" font-size="13.68" font-style="italic">η</text>
<text transform="translate(90.07,59.81) scale(1.173,1)" font-size="9.38" font-style="italic">c</text>
<text transform="translate(90.48,51.17) scale(0.905,1)" font-size="11.56">(1)</text>
<text transform="translate(435.16,32.83) scale(0.988,1)" font-size="14.63" font-style="italic">χ</text>
<text transform="translate(442.44,36.31) scale(0.933,1)" font-size="9.38" font-style="italic">c</text>
<text transform="translate(446.05,36.21) scale(1.190,1)" font-size="9.40">0</text>
<text transform="translate(442.27,25.83) scale(0.912,1)" font-size="11.78">(1)</text>
<text x="458.50" y="35.01" font-size="19.12">×</text>
<text transform="translate(472.84,32.75) scale(0.918,1)" font-size="15.15">20</text>
<text transform="translate(435.16,59.43) scale(0.988,1)" font-size="14.63" font-style="italic">χ</text>
<text transform="translate(442.44,62.91) scale(0.933,1)" font-size="9.38" font-style="italic">c</text>
<text transform="translate(445.29,63.00) scale(1.407,1)" font-size="9.55">1</text>
<text transform="translate(442.27,52.43) scale(0.912,1)" font-size="11.78">(1)</text>
<text transform="translate(435.16,86.53) scale(0.988,1)" font-size="14.63" font-style="italic">χ</text>
<text transform="translate(442.44,90.01) scale(0.933,1)" font-size="9.38" font-style="italic">c</text>
<text transform="translate(446.03,90.10) scale(1.212,1)" font-size="9.69">2</text>
<text transform="translate(442.27,79.53) scale(0.912,1)" font-size="11.78">(1)</text>
<text transform="translate(42.91,241.73) scale(0.904,1)" font-size="13.43">0.0</text>
<text transform="translate(98.27,241.73) scale(0.919,1)" font-size="13.43">0.2</text>
<text transform="translate(153.64,241.73) scale(0.888,1)" font-size="13.43">0.4</text>
<text transform="translate(209.00,241.73) scale(0.896,1)" font-size="13.43">0.6</text>
<text transform="translate(264.35,241.73) scale(0.904,1)" font-size="13.43">0.8</text>
<text transform="translate(319.06,241.74) scale(0.958,1)" font-size="13.24">1.0</text>
<text transform="translate(186.36,258.10) scale(1.125,1)" font-size="14.13" font-style="italic">z</text>
<text transform="translate(393.46,241.73) scale(0.904,1)" font-size="13.43">0.0</text>
<text transform="translate(448.77,241.73) scale(0.919,1)" font-size="13.43">0.2</text>
<text transform="translate(504.09,241.73) scale(0.888,1)" font-size="13.43">0.4</text>
<text transform="translate(559.40,241.73) scale(0.896,1)" font-size="13.43">0.6</text>
<text transform="translate(614.70,241.73) scale(0.904,1)" font-size="13.43">0.8</text>
<text transform="translate(669.36,241.74) scale(0.958,1)" font-size="13.24">1.0</text>
<text transform="translate(536.78,258.10) scale(1.125,1)" font-size="14.13" font-style="italic">z</text>
<text transform="translate(20.84,61.10) scale(0.886,1)" font-size="13.24">10</text>
<text transform="translate(32.50,55.91) scale(1.250,1)" font-size="8.00">−4</text>
<text transform="translate(20.84,228.89) scale(0.886,1)" font-size="13.24">10</text>
<text transform="translate(32.49,223.62) scale(1.295,1)" font-size="7.88">−5</text>
<text transform="translate(371.74,228.89) scale(0.886,1)" font-size="13.24">10</text>
<text transform="translate(383.39,223.62) scale(1.295,1)" font-size="7.88">−5</text>
<text transform="translate(371.74,156.12) scale(0.886,1)" font-size="13.24">10</text>
<text transform="translate(383.40,150.93) scale(1.250,1)" font-size="8.00">−4</text>
<text transform="translate(371.74,83.35) scale(0.886,1)" font-size="13.24">10</text>
<text transform="translate(383.39,78.09) scale(1.295,1)" font-size="7.88">−3</text>
<text transform="translate(371.74,10.59) scale(0.886,1)" font-size="13.24">10</text>
<text transform="translate(383.38,5.40) scale(1.302,1)" font-size="8.00">−2</text>
</g>
<g font-family="'Liberation Serif','DejaVu Serif',serif" fill="#404040" transform="translate(0.00,162.50) rotate(-90)">
<text transform="translate(0.15,11.15) scale(0.898,1)" font-size="16.23" font-style="italic">D</text>
<text transform="translate(11.20,14.48) scale(0.985,1)" font-size="10.59" font-style="italic">g</text>
<text transform="translate(13.31,14.24) scale(1.100,1)" font-size="14.48">→</text>
<text transform="translate(27.78,14.50) scale(0.815,1)" font-size="11.54" font-style="italic">X</text>
<text transform="translate(34.61,9.46) scale(1.651,1)" font-size="5.89">(1)</text>
<text transform="translate(45.44,11.56) scale(1.041,1)" font-size="15.89">(</text>
<text transform="translate(51.84,11.15) scale(0.993,1)" font-size="14.46" font-style="italic">z</text>
<text transform="translate(57.34,11.20) scale(0.875,1)" font-size="16.00">,</text>
<text transform="translate(62.74,11.20) scale(1.083,1)" font-size="15.23">2</text>
<text transform="translate(70.18,11.20) scale(1.271,1)" font-size="14.26" font-style="italic">m</text>
<text transform="translate(82.60,14.51) scale(1.116,1)" font-size="8.96" font-style="italic">c</text>
<text transform="translate(87.70,11.56) scale(1.041,1)" font-size="15.89">)</text>
</g>
<g font-family="'Liberation Serif','DejaVu Serif',serif" fill="#404040" transform="translate(350.60,162.50) rotate(-90)">
<text transform="translate(0.15,11.15) scale(0.898,1)" font-size="16.23" font-style="italic">D</text>
<text transform="translate(11.20,14.48) scale(0.985,1)" font-size="10.59" font-style="italic">g</text>
<text transform="translate(13.31,14.24) scale(1.100,1)" font-size="14.48">→</text>
<text transform="translate(27.78,14.50) scale(0.815,1)" font-size="11.54" font-style="italic">X</text>
<text transform="translate(34.61,9.46) scale(1.651,1)" font-size="5.89">(1)</text>
<text transform="translate(45.44,11.56) scale(1.041,1)" font-size="15.89">(</text>
<text transform="translate(51.84,11.15) scale(0.993,1)" font-size="14.46" font-style="italic">z</text>
<text transform="translate(57.34,11.20) scale(0.875,1)" font-size="16.00">,</text>
<text transform="translate(62.74,11.20) scale(1.083,1)" font-size="15.23">2</text>
<text transform="translate(70.18,11.20) scale(1.271,1)" font-size="14.26" font-style="italic">m</text>
<text transform="translate(82.60,14.51) scale(1.116,1)" font-size="8.96" font-style="italic">c</text>
<text transform="translate(87.70,11.56) scale(1.041,1)" font-size="15.89">)</text>
</g>
<path d="M63.00,28.10 h15.9" stroke="#0000ff" stroke-width="1.8"/>
<path d="M63.00,54.85 h15.9" stroke="#ff0000" stroke-width="1.8"/>
<path d="M413.70,31.80 h15.9" stroke="#008000" stroke-width="1.8"/>
<path d="M413.70,58.10 h15.9" stroke="#00bfbf" stroke-width="1.8"/>
<path d="M413.70,84.85 h15.9" stroke="#bf00bf" stroke-width="1.8"/>
</svg>
</body></html>
